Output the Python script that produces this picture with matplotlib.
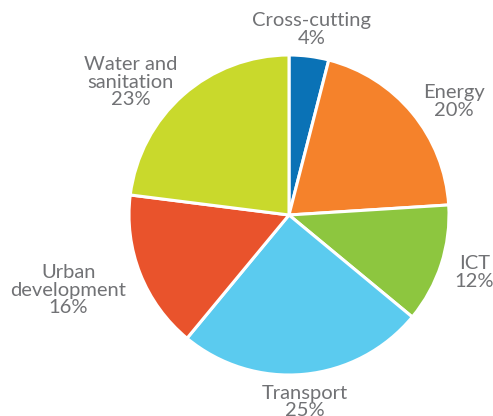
import matplotlib
matplotlib.use("Agg")
import matplotlib.pyplot as plt

sectors = ["Cross-cutting", "Energy", "ICT", "Transport", "Urban\ndevelopment", "Water and\nsanitation"]
shares = [4, 20, 12, 25, 16, 23]
colors = ["#0a72b6", "#f5822b", "#8dc63f", "#5bcbef", "#e9532c", "#c9d92c"]

# label anchor points (data units, pie radius = 1)
label_xy = [(0.14, 1.16), (1.03, 0.71), (1.16, -0.36), (0.10, -1.17), (-1.38, -0.47), (-0.99, 0.83)]

fig = plt.figure(figsize=(4.93, 4.16), dpi=100)
ax = fig.add_axes([0, 0, 1, 1])
ax.pie(shares, colors=colors, startangle=90, counterclock=False, radius=1.0,
       wedgeprops=dict(edgecolor="white", linewidth=2.2))

for name, val, (x, y) in zip(sectors, shares, label_xy):
    ax.text(x, y, f"{name}\n{val}%", ha="center", va="center", fontsize=14.5,
            family="Lato", color="#717275", linespacing=1.02)

cx, cy, r = 289, 215, 160
ax.set_xlim(-cx / r, (493 - cx) / r)
ax.set_ylim(-(416 - cy) / r, cy / r)
ax.set_aspect("auto")
ax.axis("off")
fig.savefig("out.png", dpi=100)
